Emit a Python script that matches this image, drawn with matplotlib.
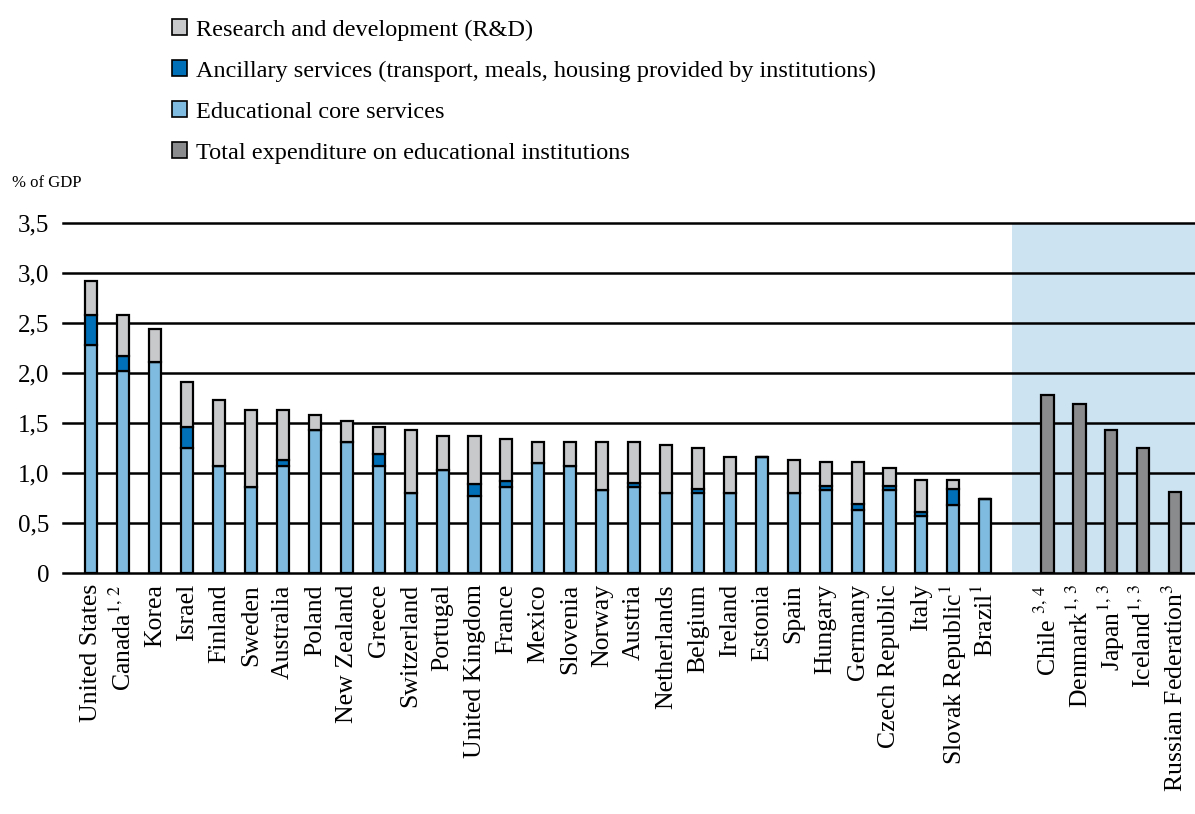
import numpy as np
import matplotlib
matplotlib.use("Agg")
import matplotlib.pyplot as plt
from matplotlib.patches import Patch
from matplotlib.ticker import FuncFormatter

plt.rcParams['font.family'] = ['Liberation Serif', 'DejaVu Serif']
plt.rcParams['mathtext.fontset'] = 'stix'

# Pays avec détail par type de service
countries = ["United States", "Canada$^{1,\\,2}$", "Korea", "Israel", "Finland", "Sweden",
             "Australia", "Poland", "New Zealand", "Greece", "Switzerland", "Portugal",
             "United Kingdom", "France", "Mexico", "Slovenia", "Norway", "Austria",
             "Netherlands", "Belgium", "Ireland", "Estonia", "Spain", "Hungary",
             "Germany", "Czech Republic", "Italy", "Slovak Republic$^{1}$", "Brazil$^{1}$"]
core = [2.28, 2.02, 2.11, 1.25, 1.07, 0.86, 1.07, 1.43, 1.31, 1.07, 0.80, 1.03,
        0.77, 0.86, 1.10, 1.07, 0.83, 0.86, 0.80, 0.80, 0.80, 1.16, 0.80, 0.83,
        0.63, 0.83, 0.57, 0.68, 0.74]
ancillary = [0.30, 0.15, 0.0, 0.21, 0.0, 0.0, 0.06, 0.0, 0.0, 0.12, 0.0, 0.0,
             0.12, 0.06, 0.0, 0.0, 0.0, 0.04, 0.0, 0.04, 0.0, 0.0, 0.0, 0.04,
             0.06, 0.04, 0.04, 0.16, 0.0]
rnd = [0.34, 0.41, 0.33, 0.45, 0.66, 0.77, 0.50, 0.15, 0.21, 0.27, 0.63, 0.34,
       0.48, 0.42, 0.21, 0.24, 0.48, 0.41, 0.48, 0.41, 0.36, 0.0, 0.33, 0.24,
       0.42, 0.18, 0.32, 0.09, 0.0]

# Pays avec total seulement
countries_total = ["Chile $^{3,\\,4}$", "Denmark$^{1,\\,3}$", "Japan$^{1,\\,3}$",
                   "Iceland$^{1,\\,3}$", "Russian Federation$^{3}$"]
total = [1.78, 1.69, 1.43, 1.25, 0.81]

c_core = "#7fbbe0"
c_anc = "#0071b9"
c_rnd = "#c8c9cb"
c_tot = "#8a8b8d"
c_shade = "#cce3f1"

fig = plt.figure(figsize=(11.95, 8.14), dpi=100)
ax = fig.add_axes([0.053, 0.296, 0.947, 0.430])

x1 = np.arange(len(countries))
x2 = np.arange(len(countries_total)) + 30 - 0.05
w = 0.38
core = np.array(core)
ancillary = np.array(ancillary)
rnd = np.array(rnd)

ax.axvspan(28.84, 35, color=c_shade, zorder=0, lw=0)
for y in np.arange(0.5, 3.6, 0.5):
    ax.axhline(y, color="black", lw=1.8, zorder=1, clip_on=False)

kw = dict(width=w, edgecolor="black", linewidth=1.6, zorder=3)
ax.bar(x1, core, color=c_core, **kw)
ax.bar(x1, ancillary, bottom=core, color=c_anc, **kw)
ax.bar(x1, rnd, bottom=core + ancillary, color=c_rnd, **kw)
ax.bar(x2, total, color=c_tot, **kw)

ax.set_xlim(-0.88, 34.57)
ax.set_ylim(0, 3.5)
ax.set_yticks(np.arange(0, 3.6, 0.5))
ax.yaxis.set_major_formatter(FuncFormatter(lambda v, p: "0" if v == 0 else f"{v:.1f}".replace(".", ",")))
ax.set_xticks(list(x1) + list(x2))
ax.set_xticklabels(countries + countries_total, rotation=90)
ax.tick_params(axis="y", length=0, labelsize=18, pad=10)
ax.tick_params(axis="x", length=0, labelsize=18.5, pad=8)
for s in ["top", "right", "left"]:
    ax.spines[s].set_visible(False)
ax.spines["bottom"].set_linewidth(1.8)
ax.spines["bottom"].set_zorder(4)

fig.text(0.010, 0.775, "% of GDP", fontsize=12, va="center")

handles = [Patch(facecolor=c_rnd, edgecolor="black", lw=1.2),
           Patch(facecolor=c_anc, edgecolor="black", lw=1.2),
           Patch(facecolor=c_core, edgecolor="black", lw=1.2),
           Patch(facecolor=c_tot, edgecolor="black", lw=1.2)]
labels = ["Research and development (R&D)",
          "Ancillary services (transport, meals, housing provided by institutions)",
          "Educational core services",
          "Total expenditure on educational institutions"]
fig.legend(handles, labels, loc="upper left", bbox_to_anchor=(0.13, 0.997), frameon=False,
           fontsize=17.5, handlelength=0.62, handleheight=0.62, handletextpad=0.35,
           labelspacing=0.8, borderaxespad=0.3)

fig.savefig("out.png", dpi=100)
